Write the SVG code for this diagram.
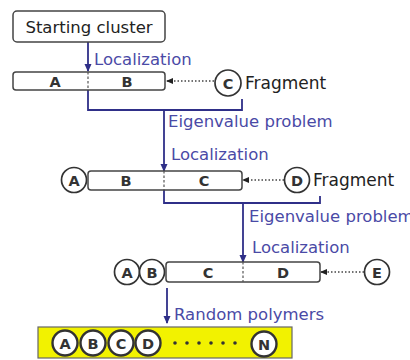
<svg xmlns="http://www.w3.org/2000/svg" width="410" height="360" viewBox="0 0 410 360">
<defs>
<style>
text{font-family:"DejaVu Sans","Liberation Sans",Arial,sans-serif;}
.box{fill:#fff;stroke:#444;stroke-width:1.5;}
.div{stroke:#555;stroke-width:1.2;stroke-dasharray:2.5,2;fill:none;}
.circ{fill:#fff;stroke:#333;stroke-width:1.7;}
.circb{fill:#fff;stroke:#333;stroke-width:2.4;}
.lt{font-size:14.5px;font-weight:bold;fill:#333;text-anchor:middle;}
.frag{font-size:17px;fill:#222;}
.lab{font-size:16.5px;fill:#4a4aa6;}
.conn{stroke:#2f2f88;stroke-width:1.8;fill:none;}
.dot{stroke:#444;stroke-width:1.4;stroke-dasharray:1.5,2;fill:none;}
</style>
<marker id="ah" markerWidth="8" markerHeight="8" refX="7" refY="4" orient="auto" markerUnits="userSpaceOnUse">
<path d="M0,0.5 L8,4 L0,7.5 Z" fill="#2f2f88"/>
</marker>
<marker id="dh" markerWidth="7" markerHeight="7" refX="6" refY="3.5" orient="auto" markerUnits="userSpaceOnUse">
<path d="M0,0.5 L7,3.5 L0,6.5 Z" fill="#222"/>
</marker>
</defs>

<g id="connectors">
<line class="conn" x1="88" y1="42" x2="88" y2="71" marker-end="url(#ah)"/>
<path class="conn" d="M88,90 V110 H242 V99"/>
<line class="conn" x1="164" y1="110" x2="164" y2="171" marker-end="url(#ah)"/>
<path class="conn" d="M164,190 V203 H320 V196"/>
<line class="conn" x1="243" y1="203" x2="243" y2="262" marker-end="url(#ah)"/>
<line class="conn" x1="167" y1="288" x2="167" y2="323" marker-end="url(#ah)"/>
<line class="dot" x1="214" y1="81" x2="167" y2="81" marker-end="url(#dh)"/>
<line class="dot" x1="284" y1="180" x2="243" y2="180" marker-end="url(#dh)"/>
<line class="dot" x1="364" y1="272" x2="321" y2="272" marker-end="url(#dh)"/>
<text class="lab" x="94" y="65">Localization</text>
<text class="lab" x="168" y="127">Eigenvalue problem</text>
<text class="lab" x="171" y="160">Localization</text>
<text class="lab" x="249" y="222">Eigenvalue problem</text>
<text class="lab" x="252" y="253">Localization</text>
<text class="lab" x="174" y="320">Random polymers</text>
</g>

<g id="start">
<rect class="box" x="13" y="11" width="152" height="31" rx="4"/>
<text x="89" y="33" font-size="16.5" fill="#222" text-anchor="middle">Starting cluster</text>
</g>

<g id="row1">
<rect class="box" x="13" y="72" width="152" height="18" rx="3"/>
<line class="div" x1="88" y1="72" x2="88" y2="90"/>
<text class="lt" x="55" y="86.5">A</text>
<text class="lt" x="127" y="86.5">B</text>
</g>
<g id="fragC">
<circle class="circ" cx="228" cy="83" r="13"/>
<text class="lt" x="228" y="88.5">C</text>
<text class="frag" x="245" y="89">Fragment</text>
</g>

<g id="row2">
<circle class="circ" cx="74" cy="180" r="12.5"/>
<text class="lt" x="74" y="185.5">A</text>
<rect class="box" x="88" y="171" width="154" height="19" rx="3"/>
<line class="div" x1="164" y1="171" x2="164" y2="190"/>
<text class="lt" x="126" y="185.5">B</text>
<text class="lt" x="204" y="185.5">C</text>
</g>
<g id="fragD">
<circle class="circ" cx="297" cy="180" r="12.5"/>
<text class="lt" x="297" y="185.5">D</text>
<text class="frag" x="313" y="186">Fragment</text>
</g>

<g id="row3">
<circle class="circ" cx="127" cy="272" r="12.5"/>
<text class="lt" x="127" y="277.5">A</text>
<circle class="circ" cx="152" cy="272" r="12.5"/>
<text class="lt" x="152" y="277.5">B</text>
<rect class="box" x="166" y="262" width="154" height="20" rx="3"/>
<line class="div" x1="243" y1="262" x2="243" y2="282"/>
<text class="lt" x="208" y="277.5">C</text>
<text class="lt" x="283" y="277.5">D</text>
</g>
<g id="fragE">
<circle class="circ" cx="377" cy="272" r="12.5"/>
<text class="lt" x="377" y="277.5">E</text>
</g>

<g id="polymer">
<rect x="38" y="327" width="254" height="31" fill="#f2f200" stroke="#666" stroke-width="1.2"/>
<circle class="circb" cx="65" cy="343" r="12.5"/>
<text class="lt" x="65" y="348.5">A</text>
<circle class="circb" cx="93" cy="343" r="12.5"/>
<text class="lt" x="93" y="348.5">B</text>
<circle class="circb" cx="121" cy="343" r="12.5"/>
<text class="lt" x="121" y="348.5">C</text>
<circle class="circb" cx="148" cy="343" r="12.5"/>
<text class="lt" x="148" y="348.5">D</text>
<g fill="#333">
<circle cx="175" cy="343" r="1.8"/><circle cx="187" cy="343" r="1.8"/><circle cx="199" cy="343" r="1.8"/>
<circle cx="211" cy="343" r="1.8"/><circle cx="223" cy="343" r="1.8"/><circle cx="235" cy="343" r="1.8"/>
</g>
<circle class="circb" cx="264" cy="344" r="12.5"/>
<text class="lt" x="264" y="349.5">N</text>
</g>
</svg>
